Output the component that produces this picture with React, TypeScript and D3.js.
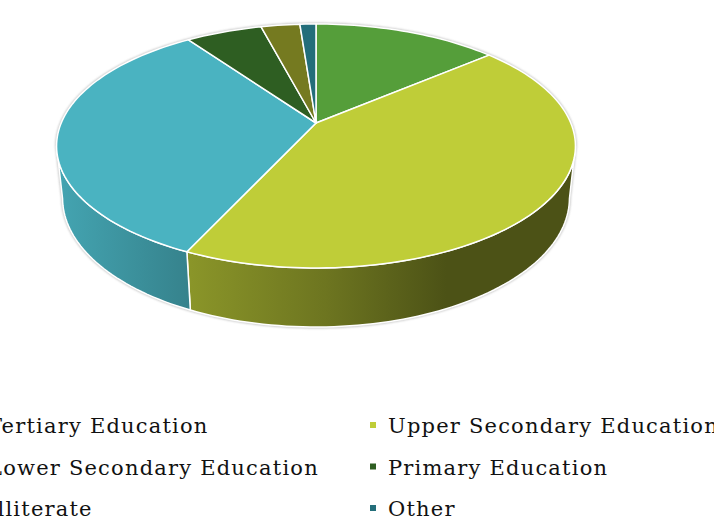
import { useEffect } from "react";
import * as d3 from "d3";

const categories = [
  "Tertiary Education",
  "Upper Secondary Education",
  "Lower Secondary Education",
  "Primary Education",
  "Illiterate",
  "Other",
];
const shares = [13.8, 43.1, 33.3, 5.7, 2.9, 1.2];
const palette = ["#559e3a", "#bfcd38", "#4ab3c1", "#2e5e22", "#757a20", "#236e7a"];

const width = 714;
const height = 523;

// camera / perspective for the tilted disc
const cam = { cx: 316, cy: 123, f: 1199, dist: 4.706, tilt: 0.48, depth: 0.2326 };
const sinT = Math.sin(cam.tilt);
const cosT = Math.cos(cam.tilt);

const project = (phi: number, r: number, y: number): [number, number] => {
  const x = r * Math.sin(phi);
  const z = r * Math.cos(phi);
  const Y = y * cosT + z * sinT;
  const dz = cam.dist + z * cosT - y * sinT;
  return [cam.cx + (cam.f * x) / dz, cam.cy - (cam.f * Y) / dz];
};

const rimPoints = (a0: number, a1: number, y: number) => {
  const n = Math.max(2, Math.ceil(((a1 - a0) / (Math.PI * 2)) * 240));
  return d3.range(n + 1).map((i) => project(a0 + ((a1 - a0) * i) / n, 1, y));
};

const line = d3.line();

const topPath = (a0: number, a1: number) =>
  line([project(0, 0, 0), ...rimPoints(a0, a1, 0)])! + "Z";

// visible (front) part of the outer wall
const frontStart = Math.acos(-0.1885);
const frontEnd = Math.PI * 2 - frontStart;

const sidePath = (a0: number, a1: number) => {
  const s = Math.max(a0, frontStart);
  const e = Math.min(a1, frontEnd);
  if (e <= s) return null;
  const top = rimPoints(s, e, 0);
  const bottom = rimPoints(s, e, -cam.depth).reverse();
  return line([...top, ...bottom])! + "Z";
};

const outlinePath = () => {
  const back = rimPoints(frontEnd - Math.PI * 2, frontStart, 0);
  const front = rimPoints(frontStart, frontEnd, -cam.depth);
  return line([...back, ...front])! + "Z";
};

// horizontal lighting on the wall
const shadeStops = [
  [0, 0.92],
  [0.25, 0.73],
  [0.52, 0.57],
  [0.75, 0.4],
  [1, 0.4],
];
const shade = (hex: string, k: number) => {
  const c = d3.rgb(hex);
  return d3.rgb(c.r * k, c.g * k, c.b * k).formatHex();
};

const legendRows = [433, 474.5, 516];
const legendCols = [-12, 388];

export default function App() {
  useEffect(() => {
    document.body.style.margin = "0";
  }, []);

  const arcs = d3.pie<number>().sort(null).value((d) => d)(shares);
  const left = cam.cx - 260;
  const right = cam.cx + 260;

  return (
    <svg width={width} height={height} style={{ display: "block", background: "#fff" }}>
      <defs>
        {palette.map((col, i) => (
          <linearGradient
            key={i}
            id={`side-${i}`}
            gradientUnits="userSpaceOnUse"
            x1={left}
            x2={right}
            y1={0}
            y2={0}
          >
            {shadeStops.map(([o, k]) => (
              <stop key={o} offset={o} stopColor={shade(col, k)} />
            ))}
          </linearGradient>
        ))}
        <filter id="blur" x="-10%" y="-10%" width="120%" height="120%">
          <feGaussianBlur stdDeviation="1" />
        </filter>
      </defs>

      <path
        d={outlinePath()}
        fill="none"
        stroke="#9a9a9a"
        strokeWidth={2.5}
        opacity={0.6}
        filter="url(#blur)"
      />

      {arcs.map((a, i) => {
        const d = sidePath(a.startAngle, a.endAngle);
        return d ? (
          <path
            key={`s${i}`}
            d={d}
            fill={`url(#side-${i})`}
            stroke="#fff"
            strokeWidth={1.5}
            strokeLinejoin="round"
          />
        ) : null;
      })}

      {arcs.map((a, i) => (
        <path
          key={`t${i}`}
          d={topPath(a.startAngle, a.endAngle)}
          fill={palette[i]}
          stroke="#fff"
          strokeWidth={1.5}
          strokeLinejoin="round"
        />
      ))}

      <g fontFamily="'DejaVu Serif', serif" fontSize={21} letterSpacing={1.2} fill="#111">
        {categories.map((name, i) => {
          const col = i % 2;
          const row = Math.floor(i / 2);
          const x = legendCols[col];
          const y = legendRows[row];
          return (
            <g key={name}>
              <rect x={x - 18} y={y - 11} width={6} height={6} fill={palette[i]} />
              <text x={x} y={y}>
                {name}
              </text>
            </g>
          );
        })}
      </g>
    </svg>
  );
}
